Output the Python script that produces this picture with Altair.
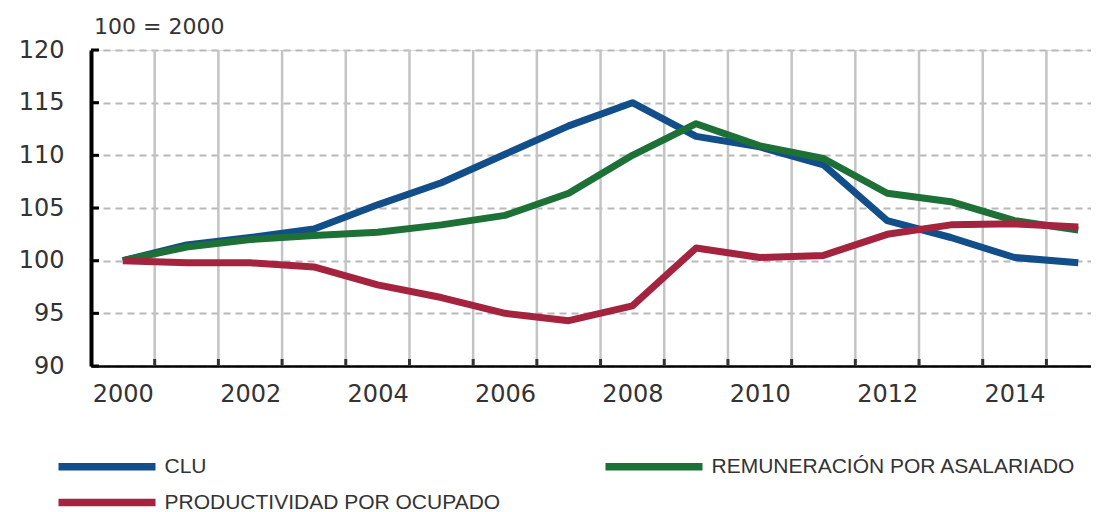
import altair as alt
import pandas as pd

years = list(range(2000, 2016))
clu = [100, 101.5, 102.2, 103.0, 105.3, 107.4, 110.1, 112.8, 115.0, 111.8, 110.8, 109.1, 103.8, 102.2, 100.3, 99.8]
remuneracion = [100, 101.3, 102.0, 102.4, 102.7, 103.4, 104.3, 106.4, 110.0, 113.0, 110.9, 109.7, 106.4, 105.6, 103.8, 102.9]
productividad = [100, 99.8, 99.8, 99.4, 97.7, 96.5, 95.0, 94.3, 95.7, 101.2, 100.3, 100.5, 102.5, 103.4, 103.5, 103.2]
series_names = ["CLU", "REMUNERACIÓN POR ASALARIADO", "PRODUCTIVIDAD POR OCUPADO"]
series_colors = ["#124e89", "#1d7036", "#a4243f"]
y_ticks = [90, 95, 100, 105, 110, 115, 120]
x_labels = [2000, 2002, 2004, 2006, 2008, 2010, 2012, 2014]

W, H = 1000, 316
AXIS_FONT = "DejaVu Sans"
LEG_FONT = "Liberation Sans"

rows = []
for name, vals in zip(series_names, [clu, remuneracion, productividad]):
    for yr, v in zip(years, vals):
        rows.append({"year": yr, "value": v, "serie": name})
df = pd.DataFrame(rows)

bounds = pd.DataFrame({"year": [y + 0.5 for y in years[:-1]]})
yt = pd.DataFrame({"value": y_ticks})

x_scale = alt.Scale(domain=[1999.5, 2015.2], nice=False, zero=False)
y_scale = alt.Scale(domain=[90, 120], nice=False, zero=False)

x_axis = alt.Axis(values=x_labels, format="d", title=None, grid=False, ticks=False,
                  domain=True, domainColor="#000000", domainWidth=2.5,
                  labelFont=AXIS_FONT, labelFontSize=24, labelColor="#333333",
                  labelPadding=16, labelFlush=False)
y_axis = alt.Axis(values=y_ticks, title=None, grid=True, gridColor="#b8b8b8",
                  gridDash=[7, 5], gridWidth=2, ticks=False,
                  domain=True, domainColor="#000000", domainWidth=4,
                  labelFont=AXIS_FONT, labelFontSize=24, labelColor="#333333",
                  labelPadding=27)

X = alt.X("year:Q", scale=x_scale, axis=x_axis)
Y = alt.Y("value:Q", scale=y_scale, axis=y_axis)

vgrid = alt.Chart(bounds).mark_rule(color="#c4c4c4", strokeWidth=2.5).encode(
    x=X, y=alt.value(0), y2=alt.value(H))
xticks = alt.Chart(bounds).mark_rule(color="#333333", strokeWidth=3).encode(
    x=X, y=alt.value(H), y2=alt.value(H - 7))
yticks = alt.Chart(yt).mark_rule(color="#000000", strokeWidth=3).encode(
    y=Y, x=alt.value(0), x2=alt.value(8))

lines = alt.Chart(df).mark_line(strokeWidth=7, strokeJoin="round").encode(
    x=X, y=Y,
    color=alt.Color("serie:N",
                    scale=alt.Scale(domain=series_names, range=series_colors),
                    sort=None,
                    legend=alt.Legend(title=None, orient="none", legendX=5.5, legendY=406,
                                      direction="horizontal",
                                      columns=2, columnPadding=90, rowPadding=5,
                                      symbolType="M-9.7,0L9.7,0", symbolSize=100,
                                      symbolStrokeWidth=7.5, labelFont=LEG_FONT,
                                      labelFontSize=21, labelColor="#333333",
                                      labelOffset=47, labelLimit=600,
                                      values=series_names)),
    detail="serie:N")

chart = alt.layer(vgrid, xticks, yticks, lines).properties(
    width=W, height=H,
    autosize=alt.AutoSizeParams(type="none"),
    padding={"left": 83, "top": 42, "right": 0, "bottom": 146},
    title=alt.TitleParams("100 = 2000", anchor="start", frame="group", font=AXIS_FONT,
                          fontSize=22, fontWeight="normal", color="#333333",
                          offset=-1, dx=3),
).configure_view(stroke=None).configure(background="white")

chart.save("out.html", embed_options={"renderer": "svg", "actions": False})
